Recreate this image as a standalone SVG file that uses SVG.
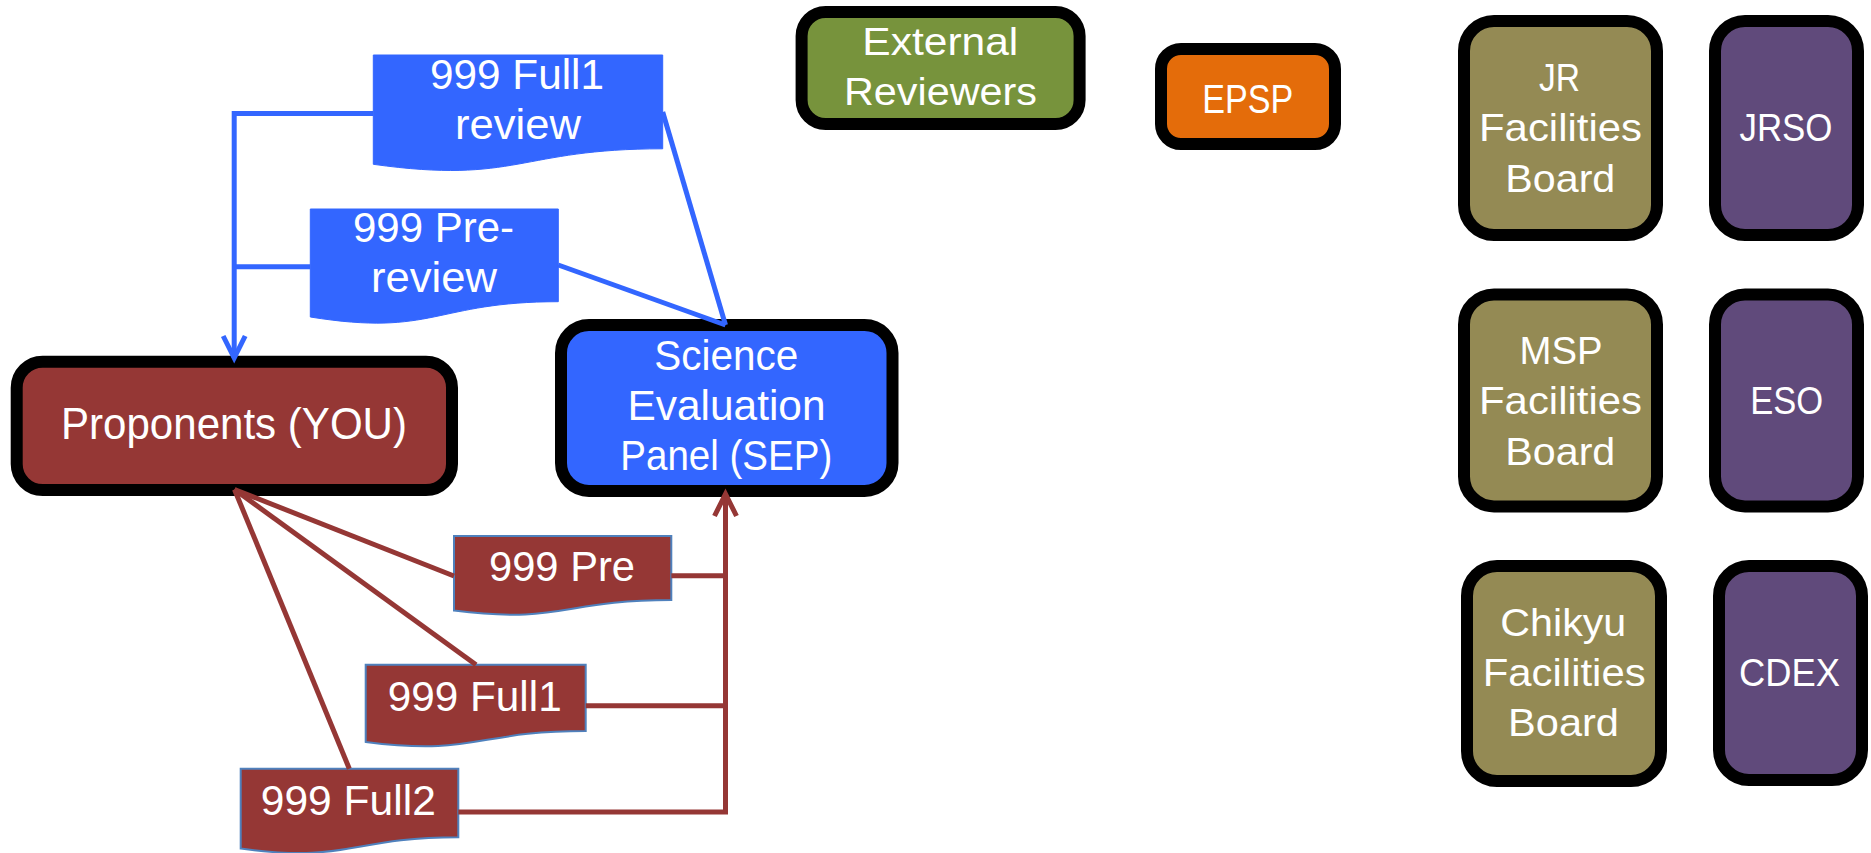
<svg xmlns="http://www.w3.org/2000/svg" width="1871" height="853" viewBox="0 0 1871 853">
<style>
  .box { stroke: #000; stroke-width: 12; }
  .t { font-family: "Liberation Sans", Arial, sans-serif; fill: #fff; text-anchor: middle; }
  .l { font-size: 43px; }
  .r { font-size: 39px; }
  .blue { fill: #3366FF; }
  .red { fill: #953735; }
  .green { fill: #77933C; }
  .orange { fill: #E46C0A; }
  .olive { fill: #948A54; }
  .purple { fill: #604A7B; }
  .docb { fill: #3366FF; stroke: #3366FF; stroke-width: 1; }
  .docr { fill: #953735; stroke: #4F81BD; stroke-width: 2; }
  .cb { fill: none; stroke: #3366FF; stroke-width: 5; }
  .cr { fill: none; stroke: #953735; stroke-width: 5; }
</style>
<defs>
  <marker id="arrB" markerUnits="userSpaceOnUse" markerWidth="40" markerHeight="40" viewBox="-30 -20 40 40" refX="0" refY="0" orient="auto">
    <path d="M-22,-11 L0,0 L-22,11" fill="none" stroke="#3366FF" stroke-width="5"/>
  </marker>
  <marker id="arrR" markerUnits="userSpaceOnUse" markerWidth="40" markerHeight="40" viewBox="-30 -20 40 40" refX="0" refY="0" orient="auto">
    <path d="M-22,-11 L0,0 L-22,11" fill="none" stroke="#953735" stroke-width="5"/>
  </marker>
</defs>
<rect width="1871" height="853" fill="#fff"/>

<g id="proponents">
  <rect class="box red" x="16.7" y="361.7" width="435.3" height="128.3" rx="26"/>
  <text class="t" x="234" y="439" style="font-size:44px" textLength="346" lengthAdjust="spacingAndGlyphs">Proponents (YOU)</text>
</g>
<g id="sep">
  <rect class="box blue" x="561" y="325" width="331.5" height="166" rx="28"/>
  <text class="t" x="726.3" y="370" style="font-size:42px" textLength="144" lengthAdjust="spacingAndGlyphs">Science</text>
  <text class="t" x="726.5" y="420" style="font-size:42px" textLength="198" lengthAdjust="spacingAndGlyphs">Evaluation</text>
  <text class="t" x="726.3" y="470" style="font-size:42px" textLength="212" lengthAdjust="spacingAndGlyphs">Panel (SEP)</text>
</g>
<g id="external-reviewers">
  <rect class="box green" x="801.6" y="12" width="278" height="112" rx="24"/>
  <text class="t" x="940.3" y="55" style="font-size:39px" textLength="156" lengthAdjust="spacingAndGlyphs">External</text>
  <text class="t" x="940.5" y="105" style="font-size:39px" textLength="193" lengthAdjust="spacingAndGlyphs">Reviewers</text>
</g>
<g id="epsp">
  <rect class="box orange" x="1161" y="49" width="174" height="95" rx="20"/>
  <text class="t" x="1247.7" y="113.3" style="font-size:41px" textLength="91" lengthAdjust="spacingAndGlyphs">EPSP</text>
</g>
<g id="jr-facilities-board">
  <rect class="box olive" x="1464" y="21" width="193" height="214" rx="30"/>
  <text class="t r" x="1559.5" y="90.7" textLength="41" lengthAdjust="spacingAndGlyphs">JR</text>
  <text class="t r" x="1560.5" y="140.7" textLength="163" lengthAdjust="spacingAndGlyphs">Facilities</text>
  <text class="t r" x="1560.3" y="191.7" textLength="110" lengthAdjust="spacingAndGlyphs">Board</text>
</g>
<g id="jrso">
  <rect class="box purple" x="1715" y="21" width="143" height="214" rx="30"/>
  <text class="t r" x="1786" y="140.7" textLength="93" lengthAdjust="spacingAndGlyphs">JRSO</text>
</g>
<g id="msp-facilities-board">
  <rect class="box olive" x="1464" y="294.4" width="193" height="212" rx="30"/>
  <text class="t r" x="1561" y="364" textLength="83" lengthAdjust="spacingAndGlyphs">MSP</text>
  <text class="t r" x="1560.5" y="414" textLength="163" lengthAdjust="spacingAndGlyphs">Facilities</text>
  <text class="t r" x="1560.3" y="465" textLength="110" lengthAdjust="spacingAndGlyphs">Board</text>
</g>
<g id="eso">
  <rect class="box purple" x="1715" y="294.4" width="143" height="212" rx="30"/>
  <text class="t r" x="1786.7" y="414" textLength="73" lengthAdjust="spacingAndGlyphs">ESO</text>
</g>
<g id="chikyu-facilities-board">
  <rect class="box olive" x="1467" y="566" width="194" height="215" rx="30"/>
  <text class="t r" x="1563.3" y="635.7" textLength="126" lengthAdjust="spacingAndGlyphs">Chikyu</text>
  <text class="t r" x="1564.2" y="686" textLength="163" lengthAdjust="spacingAndGlyphs">Facilities</text>
  <text class="t r" x="1563.5" y="735.7" textLength="111" lengthAdjust="spacingAndGlyphs">Board</text>
</g>
<g id="cdex">
  <rect class="box purple" x="1719" y="566" width="143" height="214" rx="30"/>
  <text class="t r" x="1789.5" y="686" textLength="101" lengthAdjust="spacingAndGlyphs">CDEX</text>
</g>

<g id="doc-full1-review">
  <path class="docb" d="M373.3,55 H662.7 V148.8 C518,148.8 518,184.5 373.3,164.3 Z"/>
  <text class="t l" x="517" y="89.3" textLength="174" lengthAdjust="spacingAndGlyphs">999 Full1</text>
  <text class="t l" x="518" y="139.3" textLength="126" lengthAdjust="spacingAndGlyphs">review</text>
</g>
<g id="doc-pre-review">
  <path class="docb" d="M310.3,209 H558.3 V301.7 C434.3,301.7 434.3,337 310.3,317 Z"/>
  <text class="t l" x="433.5" y="242.3" textLength="161" lengthAdjust="spacingAndGlyphs">999 Pre-</text>
  <text class="t l" x="434" y="292.3" textLength="126" lengthAdjust="spacingAndGlyphs">review</text>
</g>
<g id="doc-pre">
  <path class="docr" d="M454,536 H671.3 V600 C562.6,600 562.6,624.3 454,610.5 Z"/>
  <text class="t l" x="562" y="581" textLength="146" lengthAdjust="spacingAndGlyphs">999 Pre</text>
</g>
<g id="doc-full1">
  <path class="docr" d="M365.7,664.7 H585.7 V731 C475.7,731 475.7,756.2 365.7,741.9 Z"/>
  <text class="t l" x="474.7" y="711" textLength="174" lengthAdjust="spacingAndGlyphs">999 Full1</text>
</g>
<g id="doc-full2">
  <path class="docr" d="M240.7,768.7 H458.3 V837.3 C349.5,837.3 349.5,863.3 240.7,848.6 Z"/>
  <text class="t l" x="348.3" y="815" textLength="175" lengthAdjust="spacingAndGlyphs">999 Full2</text>
</g>

<g id="connectors">
  <polyline class="cb" points="373.3,113.5 234.2,113.5 234.2,358" marker-end="url(#arrB)"/>
  <line class="cb" x1="310.3" y1="266.8" x2="234.2" y2="266.8"/>
  <line class="cb" x1="662.7" y1="112" x2="725.5" y2="325"/>
  <line class="cb" x1="558.3" y1="265" x2="725.5" y2="325"/>
  <line class="cr" x1="234.5" y1="489.5" x2="454" y2="576"/>
  <line class="cr" x1="234.5" y1="489.5" x2="476" y2="664.7"/>
  <line class="cr" x1="234.5" y1="489.5" x2="349.3" y2="768.7"/>
  <line class="cr" x1="671.3" y1="575.8" x2="725.5" y2="575.8"/>
  <line class="cr" x1="585.7" y1="705.8" x2="725.5" y2="705.8"/>
  <polyline class="cr" points="458.3,812 725.5,812 725.5,494" marker-end="url(#arrR)"/>
</g>
</svg>
